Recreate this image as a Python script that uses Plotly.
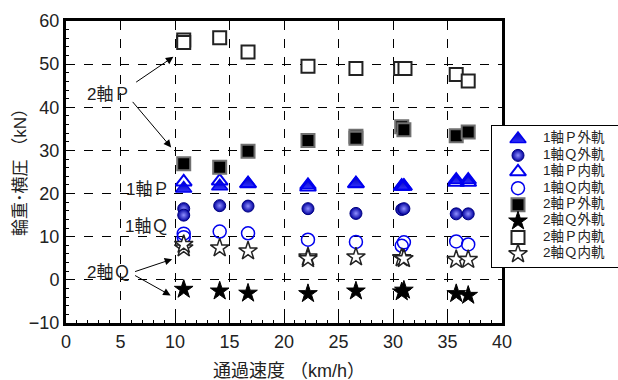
import plotly.graph_objects as go

# Passing speed (km/h) and measured wheel load / lateral force (kN)
p1_out_x = [10.8, 14.1, 16.7, 22.2, 26.6, 30.8, 31.0, 35.8, 36.9]
p1_out_y = [21.2, 21.7, 22.3, 22.0, 22.3, 21.7, 21.7, 23.2, 23.2]

q1_out_x = [10.8, 10.8, 14.1, 16.7, 22.2, 26.6, 30.8, 31.0, 35.8, 36.9]
q1_out_y = [16.5, 15.0, 17.2, 17.1, 16.5, 15.4, 16.3, 16.5, 15.3, 15.3]

p1_in_x = [10.8, 14.1, 16.7, 22.2, 26.6, 30.8, 31.0, 35.8, 36.9]
p1_in_y = [22.7, 22.9, 22.3, 21.5, 22.3, 21.7, 21.7, 22.6, 22.6]

q1_in_x = [10.8, 10.8, 14.1, 16.7, 22.2, 26.6, 30.8, 31.0, 35.8, 36.9]
q1_in_y = [10.7, 9.9, 11.2, 10.8, 9.3, 8.8, 7.9, 8.7, 8.9, 8.2]

p2_out_x = [10.8, 14.1, 16.7, 22.2, 26.6, 26.6, 30.8, 31.0, 35.8, 36.9]
p2_out_y = [26.9, 26.1, 29.8, 32.3, 33.3, 32.8, 35.5, 34.8, 33.4, 34.3]

q2_out_x = [10.8, 14.1, 16.7, 22.2, 26.6, 30.8, 31.0, 35.8, 36.9]
q2_out_y = [-2.2, -2.6, -3.1, -3.2, -2.6, -2.8, -2.4, -3.2, -3.6]

p2_in_x = [10.8, 10.8, 14.1, 16.7, 22.2, 26.6, 30.7, 31.1, 35.8, 36.9]
p2_in_y = [55.6, 55.0, 56.1, 52.8, 49.5, 49.0, 49.0, 49.0, 47.6, 46.1]

q2_in_x = [10.8, 10.8, 14.1, 16.7, 22.2, 22.2, 26.6, 30.8, 31.0, 35.8, 36.9]
q2_in_y = [7.4, 8.2, 7.4, 6.7, 5.3, 4.9, 5.3, 5.1, 4.9, 4.7, 4.7]

series_names = ["1軸Ｐ外軌", "1軸Ｑ外軌", "1軸Ｐ内軌", "1軸Ｑ内軌",
                "2軸Ｐ外軌", "2軸Ｑ外軌", "2軸Ｐ内軌", "2軸Ｑ内軌"]

x_ticks = [0, 5, 10, 15, 20, 25, 30, 35, 40]
y_ticks = [-10, 0, 10, 20, 30, 40, 50, 60]

FONT = "Liberation Sans, Arial, Noto Sans CJK JP"
TXT = "#222222"
BLUE = "#0000ee"

# Marker style for each series (same order as series_names)
markers = [
    dict(symbol="triangle-up", size=14, color="#0000b0",
         line=dict(color=BLUE, width=1.5),
         gradient=dict(type="vertical", color="#3030ff")),
    dict(symbol="circle", size=12, color="#0000a0",
         line=dict(color="#000080", width=1),
         gradient=dict(type="radial", color="#9090ff")),
    dict(symbol="triangle-up-open", size=14, color=BLUE,
         line=dict(color=BLUE, width=2)),
    dict(symbol="circle-open", size=13, color=BLUE,
         line=dict(color=BLUE, width=1.5)),
    dict(symbol="square", size=13, color="black",
         line=dict(color="#707070", width=2)),
    dict(symbol="star", size=14, color="black",
         line=dict(color="black", width=1)),
    dict(symbol="square", size=13, color="white",
         line=dict(color="#222222", width=2)),
    dict(symbol="star", size=14, color="white",
         line=dict(color="#222222", width=1.5)),
]

series_xy = [
    (p1_out_x, p1_out_y), (q1_out_x, q1_out_y),
    (p1_in_x, p1_in_y), (q1_in_x, q1_in_y),
    (p2_out_x, p2_out_y), (q2_out_x, q2_out_y),
    (p2_in_x, p2_in_y), (q2_in_x, q2_in_y),
]

fig = go.Figure()

for name, (xs, ys), mk in zip(series_names, series_xy, markers):
    fig.add_trace(go.Scatter(x=xs, y=ys, mode="markers", name=name,
                             marker=mk, showlegend=False))

# Legend panel: its own small subplot (x2/y2) laid over the right edge,
# one row per series
rows = list(range(len(series_names)))
for i, mk in enumerate(markers):
    fig.add_trace(go.Scatter(x=[26], y=[rows[i]], mode="markers", marker=mk,
                             xaxis="x2", yaxis="y2", showlegend=False,
                             hoverinfo="skip"))
fig.add_trace(go.Scatter(x=[51] * len(rows), y=rows, mode="text",
                         text=series_names, textposition="middle right",
                         textfont=dict(family=FONT, size=13.5, color=TXT),
                         xaxis="x2", yaxis="y2", showlegend=False,
                         hoverinfo="skip"))

# Group labels and pointer arrows
labels = [
    ("2軸Ｐ", 3.9, 42.9),
    ("1軸Ｐ", 7.5, 20.9),
    ("1軸Ｑ", 7.4, 12.3),
    ("2軸Ｑ", 3.9, 1.6),
]
for text, lx, ly in labels:
    fig.add_annotation(x=lx, y=ly, text=text, showarrow=False,
                       font=dict(family=FONT, size=17, color=TXT))

arrows = [
    (6.3, 45.6, 9.85, 51.7),
    (6.0, 41.6, 9.65, 30.7),
    (6.2, 1.8, 9.74, 4.8),
    (6.2, 1.2, 9.6, -3.6),
]
for x0, y0, x1, y1 in arrows:
    fig.add_annotation(x=x1, y=y1, ax=x0, ay=y0, xref="x", yref="y",
                       axref="x", ayref="y", text="", showarrow=True,
                       arrowhead=2, arrowsize=1.5, arrowwidth=1,
                       arrowcolor="black")

axis_common = dict(
    showline=True, linecolor="black", linewidth=3, mirror=True,
    ticks="inside", ticklen=6, tickcolor="black", tickwidth=1,
    showgrid=True, gridcolor="black", griddash="dash", gridwidth=1,
    zeroline=False, automargin=False,
    tickfont=dict(family=FONT, size=18, color=TXT),
)

W, H = 618, 380
L, T, B = 66, 21, 57
plot_w = 436
paper_w = W - L
paper_h = H - T - B

# Axis titles placed in paper coordinates
fig.add_annotation(text="通過速度 （km/h）", xref="paper", yref="paper",
                   x=(289 - L) / paper_w, y=(H - B - 371) / paper_h,
                   xanchor="center", yanchor="middle",
                   showarrow=False, font=dict(family=FONT, size=18, color=TXT))
fig.add_annotation(text="輪重･横圧 （kN）", xref="paper", yref="paper",
                   x=(20 - L) / paper_w, y=(H - B - 168) / paper_h,
                   xanchor="center", yanchor="middle",
                   textangle=-90, showarrow=False,
                   font=dict(family=FONT, size=17, color=TXT))

fig.update_layout(
    xaxis=dict(domain=[0, plot_w / paper_w], range=[0, 40], tickvals=x_ticks,
               minor=dict(dtick=1, ticks="inside", ticklen=3, tickcolor="black", showgrid=False),
               **axis_common),
    yaxis=dict(domain=[0, 1], range=[-10, 60], tickvals=y_ticks,
               minor=dict(dtick=2, ticks="inside", ticklen=3, tickcolor="black", showgrid=False),
               **axis_common),
    xaxis2=dict(domain=[(492 - L) / paper_w, 1], range=[0, 126], anchor="y2",
                showline=True, mirror=True, linecolor="black", linewidth=1,
                showgrid=False, zeroline=False, showticklabels=False, ticks="",
                automargin=False),
    yaxis2=dict(domain=[(H - B - 267) / paper_h, (H - B - 126) / paper_h],
                range=[7.8, -0.79], anchor="x2",
                showline=True, mirror=False, linecolor="black", linewidth=1,
                showgrid=False, zeroline=False, showticklabels=False, ticks="",
                automargin=False),
    width=W, height=H,
    margin=dict(l=L, r=0, t=T, b=B),
    paper_bgcolor="white", plot_bgcolor="white",
    showlegend=False,
)

fig.write_html("out.html")
